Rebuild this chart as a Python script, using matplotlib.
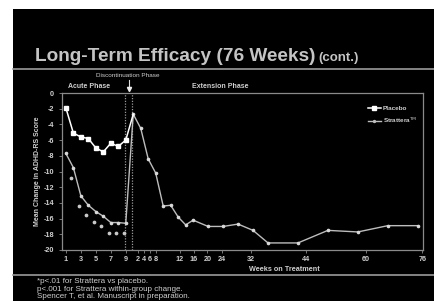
import matplotlib
matplotlib.use("Agg")
import matplotlib.pyplot as plt
import matplotlib.transforms as mtransforms
from matplotlib.patches import Rectangle
from matplotlib.lines import Line2D

# ---------------- data ----------------
# visit index on the (non-linear) x axis: acute weeks 1..9 -> 0..8
acute_visit = [0, 1, 2, 3, 4, 5, 6, 7, 8]
placebo_acute = [-1.9, -5.1, -5.6, -5.8, -7.0, -7.5, -6.4, -6.8, -6.0]
strattera_acute = [-7.7, -9.5, -13.1, -14.3, -15.1, -15.7, -16.5, -16.5, -16.6]

# significance markers (*p<.01 vs placebo) at acute visits 2..9
sig_visit = [1, 2, 3, 4, 5, 6, 7, 8]
sig_value = [-9.5, -13.1, -14.3, -15.1, -15.7, -16.5, -16.5, -16.6]

ext_visit = [9, 10, 11, 12, 13, 14, 15, 16, 17, 19, 21, 23, 25, 27,
             31, 35, 39, 43, 47]
strattera_ext = [-2.7, -4.5, -8.4, -10.2, -14.4, -14.3, -15.8, -16.8, -16.2,
                 -17.0, -17.0, -16.7, -17.5, -19.1, -19.1, -17.5, -17.7,
                 -16.9, -16.9]

xtick_pos = [0, 2, 4, 6, 8, 9.6, 10.4, 11.2, 12.0, 15.2, 17.1, 18.9, 20.8,
             24.7, 32.1, 40.1, 47.6]
xtick_labels = ["1", "3", "5", "7", "9", "2", "4", "6", "8", "12", "16",
                "20", "24", "32", "44", "60", "76"]
yticks = list(range(0, -21, -2))
discontinuation_bounds = [7.95, 8.82]

# ---------------- figure ----------------
W, H = 435, 301
fig = plt.figure(figsize=(W / 100, H / 100), dpi=100, facecolor="white")
plt.rcParams["font.family"] = ["Liberation Sans", "DejaVu Sans"]

def fx(px):
    return px / W

def fy(py):
    return 1 - py / H

# black slide background
fig.patches.append(Rectangle((fx(13), 0), 1 - fx(13), fy(9), transform=fig.transFigure,
                             facecolor="black", edgecolor="none", zorder=-10))

TXT = "#cfcfcf"
GRID = "#8a8a8a"

# title
fig.text(fx(35), fy(61), "Long-Term Efficacy (76 Weeks)", fontsize=13.7,
         fontweight="bold", color="#c4c4c4", ha="left", va="baseline")
fig.text(fx(318), fy(61), "(cont.)", fontsize=9.5, fontweight="bold",
         color="#c4c4c4", ha="left", va="baseline")

# separator lines
fig.add_artist(Line2D([fx(13), 1], [fy(68.5), fy(68.5)], color="#9a9a9a", lw=1.2,
                      transform=fig.transFigure))
fig.add_artist(Line2D([fx(13), 1], [fy(274.5), fy(274.5)], color="#9a9a9a", lw=1.2,
                      transform=fig.transFigure))

# axes
ax = fig.add_axes([fx(62.5), fy(250), fx(423) - fx(62.5), fy(93) - fy(250)])
ax.set_facecolor("black")
ax.set_xlim(-0.45, 47.7)
ax.set_ylim(-20, 0)
for s in ax.spines.values():
    s.set_color(GRID)
    s.set_linewidth(0.9)

ax.set_yticks(yticks)
ax.set_yticklabels([str(v) for v in yticks])
ax.set_xticks(xtick_pos)
ax.set_xticklabels(xtick_labels)
ax.tick_params(axis="both", colors=GRID, length=2, width=0.6, labelsize=5.2,
               labelcolor=TXT)
ax.tick_params(axis="y", pad=4)
ax.tick_params(axis="x", pad=2.5)
for lab in ax.get_xticklabels() + ax.get_yticklabels():
    lab.set_fontweight("bold")

ax.set_ylabel("Mean Change in ADHD-RS Score", fontsize=5.0, fontweight="bold",
              color=TXT, labelpad=2)
ax.set_xlabel("Weeks on Treatment", fontsize=5.2, fontweight="bold", color=TXT,
              labelpad=3)
ax.xaxis.set_label_coords(0.615, -0.1)

# discontinuation dotted lines
for b in discontinuation_bounds:
    ax.axvline(b, color="#9a9a9a", lw=0.9, ls=(0, (1, 1.2)), zorder=1)

# strattera line (acute + extension)
s_x = acute_visit + ext_visit
s_y = strattera_acute + strattera_ext
ax.plot(s_x, s_y, color="#bdbdbd", lw=1.0, marker="o", markersize=1.6,
        markerfacecolor="#d8d8d8", markeredgecolor="#d8d8d8", zorder=3)

# placebo line, joining extension start
p_x = acute_visit + ext_visit[:1]
p_y = placebo_acute + strattera_ext[:1]
ax.plot(p_x, p_y, color="white", lw=1.1, zorder=4)
ax.plot(acute_visit, placebo_acute, ls="none", marker="s", markersize=3.3,
        color="white", zorder=5)

# significance markers below Strattera points
off = mtransforms.offset_copy(ax.transData, fig=fig, x=-2, y=-10, units="dots")
ax.plot(sig_visit, sig_value, ls="none", marker="o", markersize=1.7,
        color="#c8c8c8", transform=off, zorder=3)

# legend (manual handles)
h_p = Line2D([], [], color="white", lw=1.1, marker="s", markersize=2.8)
h_s = Line2D([], [], color="#bdbdbd", lw=1.0, marker="o", markersize=1.4)
leg = ax.legend([h_p, h_s], ["Placebo", "Strattera$^{\\mathrm{TM}}$"],
                loc="upper right", bbox_to_anchor=(1.0, 0.955), frameon=False,
                fontsize=4.6, handlelength=2.0, handletextpad=0.3,
                labelspacing=0.75)
for t in leg.get_texts():
    t.set_color(TXT)
    t.set_fontweight("bold")

# phase labels
fig.text(fx(128), fy(75.5), "Discontinuation Phase", fontsize=4.6, color=TXT,
         ha="center", va="center")
fig.text(fx(68), fy(86), "Acute Phase", fontsize=5.0, fontweight="bold",
         color=TXT, ha="left", va="center")
fig.text(fx(192), fy(86.5), "Extension Phase", fontsize=5.0, fontweight="bold",
         color=TXT, ha="left", va="center")
fig.add_artist(Line2D([fx(129.5), fx(129.5)], [fy(80), fy(88)], color="#dddddd",
                      lw=0.8, transform=fig.transFigure))
fig.add_artist(Line2D([fx(129.5)], [fy(89)], marker="v", markersize=3,
                      color="#eeeeee", transform=fig.transFigure))

# footnotes
notes = ["*p<.01 for Strattera vs placebo.",
         "p<.001 for Strattera within-group change.",
         "Spencer T, et al. Manuscript in preparation."]
for i, n in enumerate(notes):
    fig.text(fx(37), fy(281.5 + 7.6 * i), n, fontsize=5.8, color=TXT,
             ha="left", va="center")

fig.savefig("out.png", dpi=100, facecolor="white")
